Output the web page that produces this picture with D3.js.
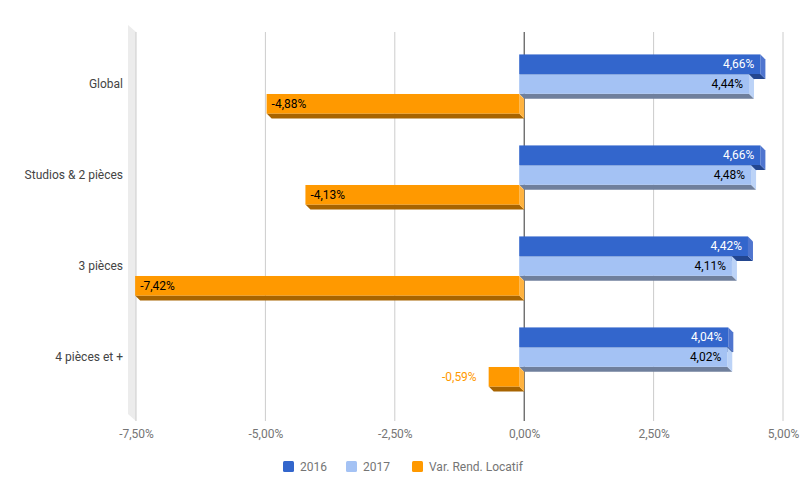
<!DOCTYPE html>
<html>
<head>
<meta charset="utf-8">
<script src="https://cdn.jsdelivr.net/npm/d3@7"></script>
<style>
  body { margin: 0; background: #fff; }
  text { font-family: Roboto, "Noto Sans", sans-serif; }
</style>
</head>
<body>
<svg id="chart" width="807" height="499"></svg>
<script>
const categories = ["Global", "Studios & 2 pièces", "3 pièces", "4 pièces et +"];
const seriesNames = ["2016", "2017", "Var. Rend. Locatif"];
const values2016 = [4.66, 4.66, 4.42, 4.04];
const values2017 = [4.44, 4.48, 4.11, 4.02];
const valuesVar = [-4.88, -4.13, -7.42, -0.59];
const tickValues = [-7.5, -5, -2.5, 0, 2.5, 5];

const colors = {
  "2016": { front: "#3366cc", side: "#4f75cf", bottom: "#23468f", text: "#ffffff" },
  "2017": { front: "#a4c2f4", side: "#bcd3f7", bottom: "#6f7f9c", text: "#000000" },
  "Var. Rend. Locatif": { front: "#ff9900", side: "#ffb340", bottom: "#a86400", text: "#000000" }
};

const seriesValues = [values2016, values2017, valuesVar];
const fmt = v => (v < 0 ? "-" : "") + Math.abs(v).toFixed(2).replace(".", ",") + "%";

const svg = d3.select("#chart");
const depth = 5;

const x = d3.scaleLinear().domain([-7.5, 5]).range([136, 783]);
const y = d3.scaleBand().domain(categories).range([38.5, 402.5]).paddingInner(0.35).paddingOuter(0.175);
const yInner = d3.scaleBand().domain(seriesNames).range([0, y.bandwidth()]).paddingInner(0.01);

const plotTop = 32, plotBottom = 421;

// left wall
const wx = x(-7.5);
svg.append("polygon")
  .attr("points", [[wx - 8, plotTop - 7], [wx, plotTop], [wx, plotBottom], [wx - 8, plotBottom - 7]].map(p => p.join(",")).join(" "))
  .attr("fill", "#ececec");

// gridlines
svg.append("g").selectAll("line").data(tickValues.filter(t => t !== 0)).join("line")
  .attr("x1", d => x(d)).attr("x2", d => x(d))
  .attr("y1", plotTop).attr("y2", plotBottom)
  .attr("stroke", "#cccccc").attr("stroke-width", 1);

// zero line
svg.append("line")
  .attr("x1", x(0)).attr("x2", x(0)).attr("y1", plotTop).attr("y2", plotBottom)
  .attr("stroke", "#333333").attr("stroke-width", 1);

// x tick labels via axis
const xAxis = d3.axisBottom(x).tickValues(tickValues).tickFormat(fmt).tickSize(0).tickPadding(0);
const ax = svg.append("g").attr("transform", `translate(0, 429)`).call(xAxis);
ax.select(".domain").remove();
ax.selectAll("text").attr("fill", "#757575").attr("font-size", 12).attr("font-family", "Roboto, sans-serif");

// category labels
svg.append("g").selectAll("text").data(categories).join("text")
  .attr("x", 123)
  .attr("y", d => y(d) + y.bandwidth() / 2)
  .attr("dy", "0.35em")
  .attr("text-anchor", "end")
  .attr("fill", "#444444")
  .attr("font-size", 12)
  .text(d => d);

// bars
const data = [];
categories.forEach((c, i) => {
  seriesNames.forEach((s, j) => {
    data.push({ cat: c, series: s, value: seriesValues[j][i] });
  });
});

const bars = svg.append("g");
data.forEach(d => {
  const c = colors[d.series];
  const xa = Math.min(x(0), x(d.value)) - depth;
  const xb = Math.max(x(0), x(d.value)) - depth;
  const y0 = y(d.cat) + yInner(d.series);
  const y1 = y0 + yInner.bandwidth();
  const g = bars.append("g");
  g.append("polygon")
    .attr("points", [[xa, y1], [xb, y1], [xb + depth, y1 + depth], [xa + depth, y1 + depth]].map(p => p.join(",")).join(" "))
    .attr("fill", c.bottom);
  g.append("polygon")
    .attr("points", [[xb, y0], [xb + depth, y0 + depth], [xb + depth, y1 + depth], [xb, y1]].map(p => p.join(",")).join(" "))
    .attr("fill", c.side);
  g.append("rect")
    .attr("x", xa).attr("y", y0).attr("width", xb - xa).attr("height", y1 - y0)
    .attr("fill", c.front);
  const label = fmt(d.value);
  const inside = (xb - xa) > 45;
  const t = g.append("text")
    .attr("y", (y0 + y1) / 2).attr("dy", "0.35em")
    .attr("font-size", 12)
    .text(label);
  if (inside) {
    if (d.value >= 0) t.attr("x", xb - 6).attr("text-anchor", "end");
    else t.attr("x", xa + 5).attr("text-anchor", "start");
    t.attr("fill", c.text);
  } else {
    t.attr("x", xa - 12).attr("text-anchor", "end").attr("fill", c.front);
  }
});

// legend
const legendX = [283, 346, 412];
const leg = svg.append("g").selectAll("g").data(seriesNames).join("g")
  .attr("transform", (d, i) => `translate(${legendX[i]}, 461)`);
leg.append("rect").attr("width", 11).attr("height", 11).attr("rx", 1.5)
  .attr("fill", d => colors[d].front);
leg.append("text").attr("x", 17).attr("y", 5.5).attr("dy", "0.35em")
  .attr("font-size", 12).attr("fill", "#757575").text(d => d);
</script>
</body>
</html>
